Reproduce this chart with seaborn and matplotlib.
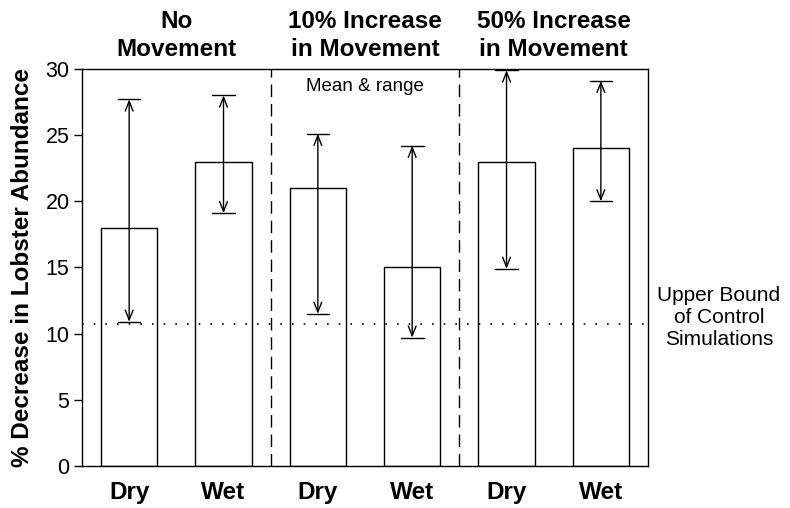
import pandas as pd
import matplotlib.pyplot as plt
import seaborn as sns

# values
scenarios = ['No\nMovement', '10% Increase\nin Movement', '50% Increase\nin Movement']
conditions = ['Dry', 'Wet', 'Dry', 'Wet', 'Dry', 'Wet']
mean_decrease = [18, 23, 21, 15, 23, 24]
range_low = [10.9, 19.1, 11.5, 9.7, 14.9, 20.0]
range_high = [27.7, 28.0, 25.1, 24.2, 29.9, 29.1]
control_upper = 10.7

sns.set_theme(style='ticks', rc={'text.color': 'black', 'axes.labelcolor': 'black',
                                 'xtick.color': 'black', 'ytick.color': 'black'})
plt.rcParams['font.family'] = ['Liberation Sans', 'DejaVu Sans']

df = pd.DataFrame({
    'slot': [str(i) for i in range(len(conditions))],
    'condition': conditions,
    'mean': mean_decrease,
    'low': range_low,
    'high': range_high,
})

fig = plt.figure(figsize=(7.9, 5.08), dpi=100)
ax = fig.add_axes([0.1038, 0.0827, 0.7165, 0.7815])

sns.barplot(data=df, x='slot', y='mean', ax=ax, width=0.6,
            color='white', edgecolor='black', linewidth=1.0)

# range arrows from the mean to each end, with a cap on the end
for i, row in df.iterrows():
    for end in (row['low'], row['high']):
        ax.annotate('', xy=(i, end), xytext=(i, row['mean']),
                    arrowprops=dict(arrowstyle='->,head_length=0.5,head_width=0.2',
                                    color='black', lw=1.0,
                                    shrinkA=0, shrinkB=0, mutation_scale=14))
        ax.plot([i - 0.12, i + 0.12], [end, end], color='black', lw=1.0)

# control upper bound
ax.axhline(control_upper, color='black', lw=1.2, ls=(0, (1, 6)))

# scenario dividers
for xv in (1.5, 3.5):
    ax.axvline(xv, color='black', lw=1.0, ls=(0, (9, 5)))

ax.set_xlim(-0.5, 5.5)
ax.set_ylim(0, 30)
ax.set_yticks([0, 5, 10, 15, 20, 25, 30])
ax.tick_params(axis='y', labelsize=15.5, length=6, width=1, direction='out', pad=3)
ax.tick_params(axis='x', length=0, pad=11)
ax.set_xticks(range(len(conditions)))
ax.set_xticklabels(conditions, fontsize=17.5, fontweight='bold')
ax.set_xlabel('')
ax.set_ylabel('% Decrease in Lobster Abundance', fontsize=17.5, fontweight='bold', labelpad=8)
for s in ax.spines.values():
    s.set_linewidth(1.0)
    s.set_color('black')

for k, name in enumerate(scenarios):
    ax.text(2 * k + 0.5, 30.6, name, ha='center', va='bottom', fontsize=17.5,
            fontweight='bold', linespacing=1.3)

ax.text(2.5, 28.7, 'Mean & range', ha='center', va='center', fontsize=13.5)
ax.text(6.25, 11.2, 'Upper Bound\nof Control\nSimulations', ha='center',
        va='center', fontsize=15, linespacing=1.2, clip_on=False)

fig.savefig('out.png', dpi=100)
